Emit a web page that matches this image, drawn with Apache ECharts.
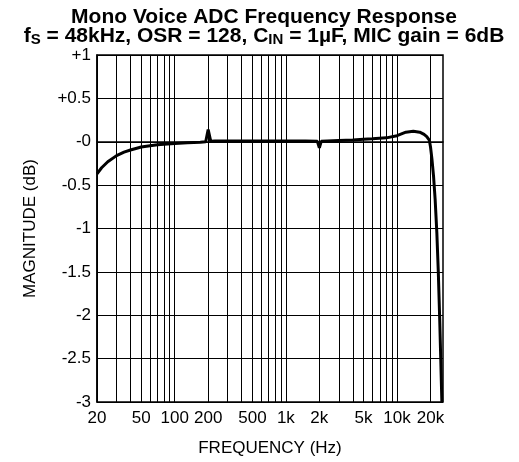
<!DOCTYPE html>
<html>
<head>
<meta charset="utf-8">
<script src="https://cdn.jsdelivr.net/npm/echarts@6/dist/echarts.min.js"></script>
<style>
  html, body { margin: 0; padding: 0; background: #fff; }
  #chart { width: 519px; height: 462px; }
</style>
</head>
<body>
<div id="chart"></div>
<script>
// frecuencias (Hz) y magnitud (dB)
const frecuencias = [20, 22, 25, 30, 35, 40, 50, 60, 70, 80, 100, 130, 170, 190, 200, 211, 230, 300, 500,
  1000, 1500, 1920, 2000, 2080, 3000, 4000, 5000, 6000, 8000, 10000, 12000, 14000, 16000, 17500,
  18500, 19500, 20000, 20600, 21300, 22000, 22800, 23500, 24200, 25300];
const magnitudes = [-0.37, -0.3, -0.23, -0.16, -0.12, -0.095, -0.06, -0.045, -0.035, -0.028, -0.02, -0.012, -0.006, 0.0, 0.14, 0.005, 0.01, 0.01, 0.01,
  0.01, 0.01, 0.005, -0.07, 0.005, 0.015, 0.02, 0.03, 0.035, 0.045, 0.07, 0.11, 0.12, 0.11, 0.085,
  0.06, 0.02, -0.06, -0.2, -0.4, -0.66, -1.05, -1.5, -2.05, -3.0];

// lineas de rejilla y etiquetas del eje X
const gridFreqs = [20, 30, 40, 50, 60, 70, 80, 90, 100, 200, 300, 400, 500, 600, 700, 800, 900,
  1000, 2000, 3000, 4000, 5000, 6000, 7000, 8000, 9000, 10000, 20000];
const labelFreqs = [20, 50, 100, 200, 500, 1000, 2000, 5000, 10000, 20000];
const fMin = 20;
const fMax = 25900;

const fuente = "'Liberation Sans', Arial, sans-serif";

const chart = echarts.init(document.getElementById("chart"));

const option = {
  animation: false,
  title: {
    text: "Mono Voice ADC Frequency Response\n{a|f}{s|S}{a| = 48kHz, OSR = 128, C}{s|IN}{a| = 1µF, MIC gain = 6dB}",
    left: 259,
    textAlign: "center",
    top: 2,
    textStyle: {
      fontFamily: fuente,
      fontSize: 21,
      fontWeight: "bold",
      color: "#000",
      lineHeight: 20,
      rich: {
        a: { fontFamily: fuente, fontSize: 21, fontWeight: "bold", color: "#000", lineHeight: 20, padding: [3, 0, 5, 0] },
        s: { fontFamily: fuente, fontSize: 15, fontWeight: "bold", color: "#000", lineHeight: 20, verticalAlign: "bottom" },
      },
    },
  },
  grid: {
    left: 97,
    right: 76,
    top: 55,
    bottom: 60,
    show: true,
    borderColor: "#000",
    borderWidth: 1.5,
  },
  xAxis: {
    type: "value",
    min: Math.log10(fMin),
    max: Math.log10(fMax),
    name: "FREQUENCY (Hz)",
    nameLocation: "middle",
    nameGap: 38,
    nameTextStyle: { fontFamily: fuente, fontSize: 17, color: "#000" },
    axisLine: { show: true, lineStyle: { color: "#000", width: 1.5 } },
    axisTick: { show: false, customValues: gridFreqs.map((f) => Math.log10(f)) },
    splitLine: { show: true, lineStyle: { color: "#000", width: 1 } },
    axisLabel: {
      customValues: labelFreqs.map((f) => Math.log10(f)),
      fontFamily: fuente,
      fontSize: 17,
      color: "#000",
      margin: 8,
      formatter: function (v) {
        const f = Math.round(Math.pow(10, v));
        return f >= 1000 ? f / 1000 + "k" : String(f);
      },
    },
  },
  yAxis: {
    type: "value",
    min: -3,
    max: 1,
    interval: 0.5,
    name: "MAGNITUDE (dB)",
    nameLocation: "middle",
    nameGap: 58,
    nameTextStyle: { fontFamily: fuente, fontSize: 17, color: "#000" },
    axisLine: { show: true, lineStyle: { color: "#000", width: 1.5 } },
    axisTick: { show: false },
    splitLine: { show: true, lineStyle: { color: "#000", width: 1 } },
    axisLabel: {
      fontFamily: fuente,
      fontSize: 17,
      color: "#000",
      margin: 6,
      formatter: function (v) {
        if (v > 0) return "+" + v;
        if (v === 0) return "-0";
        return String(v);
      },
    },
  },
  series: [
    {
      type: "line",
      showSymbol: false,
      smooth: false,
      lineStyle: { color: "#000", width: 3 },
      data: frecuencias.map((f, i) => [Math.log10(f), magnitudes[i]]),
    },
  ],
};

chart.setOption(option);
</script>
</body>
</html>
